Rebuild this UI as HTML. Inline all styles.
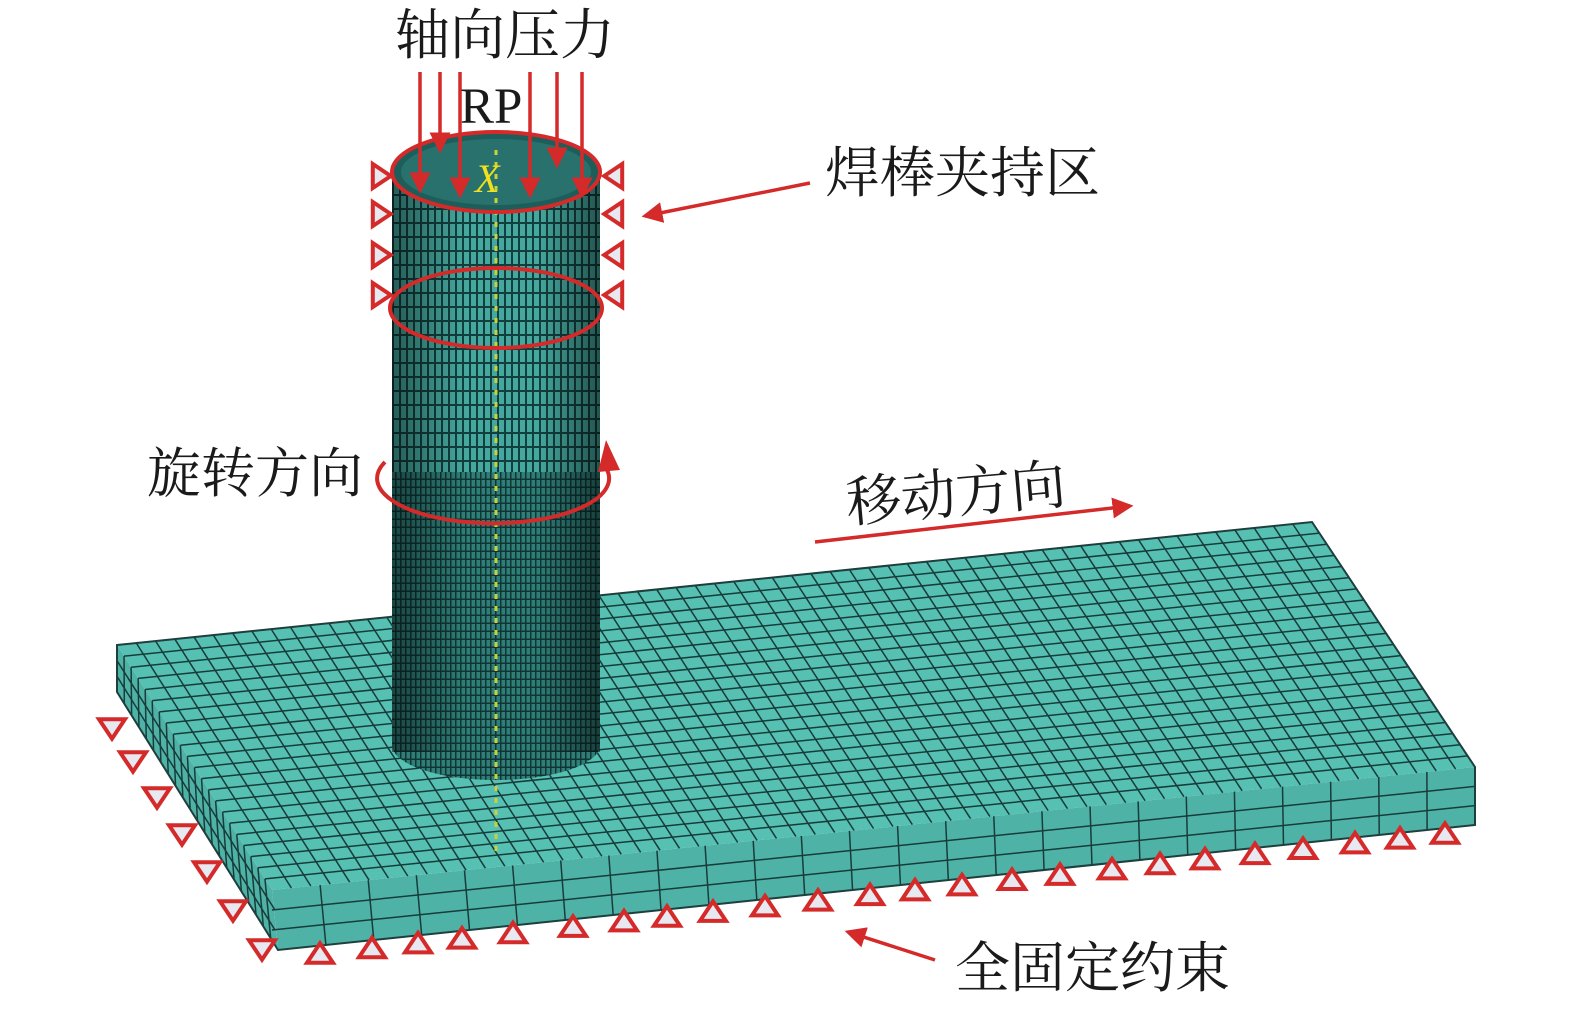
<!DOCTYPE html>
<html><head><meta charset="utf-8"><style>
html,body{margin:0;padding:0;background:#fff;}
svg{display:block}
.t{font-family:"Liberation Serif","Noto Serif CJK SC",serif;fill:#1a1a1a;}
</style></head><body>
<svg id="s" width="1575" height="1009" viewBox="0 0 1575 1009" xmlns="http://www.w3.org/2000/svg">
<defs>
<marker id="ah" markerWidth="6" markerHeight="6" refX="5" refY="3" orient="auto" markerUnits="strokeWidth"><path d="M0,0 L6,3 L0,6 Z" fill="#d42a2a"/></marker>
<pattern id="cyl" width="7" height="14" patternUnits="userSpaceOnUse"><rect width="7" height="14" fill="#45a89f"/><rect x="0" width="2" height="14" fill="#123f3d"/><rect y="12" width="7" height="2" fill="#123f3d"/></pattern>
<pattern id="cyl2" width="5" height="8" patternUnits="userSpaceOnUse"><rect width="5" height="8" fill="#2f7e78"/><rect width="1.5" height="8" fill="#0f3634"/><rect y="6.5" width="5" height="1.5" fill="#0f3634"/></pattern>
<linearGradient id="shade" x1="0" x2="1"><stop offset="0" stop-color="#000" stop-opacity=".45"/><stop offset=".35" stop-color="#000" stop-opacity="0"/><stop offset=".7" stop-color="#000" stop-opacity="0"/><stop offset="1" stop-color="#000" stop-opacity=".5"/></linearGradient>
</defs>
<polygon points="117,645 1312,522 1475,767 272,890" fill="#56c0b3"/>
<polygon points="117,645 272,890 278,950 117,692" fill="#4fb2a6"/>
<polygon points="272,890 1475,767 1475,825 278,950" fill="#4fb2a6"/>
<g id="mesh" stroke="#173c3a" stroke-width="1.5" fill="none"></g>
<polygon points="117,645 1312,522 1475,767 1475,825 278,950 117,692" fill="none" stroke="#1d3f3d" stroke-width="2"/>
<rect x="392" y="172" width="208" height="300" fill="url(#cyl)"/>
<rect x="392" y="472" width="208" height="275" fill="url(#cyl2)"/>
<path d="M392,580 L392,745 A104,35 0 0 0 600,745 L600,580 Z" fill="url(#cyl2)"/>
<rect x="392" y="172" width="208" height="580" fill="url(#shade)"/>
<ellipse cx="496" cy="172" rx="104" ry="40" fill="#1e5e5a"/>
<ellipse cx="496" cy="172" rx="95" ry="33" fill="#2f7f79" opacity=".6"/>
<line x1="496" y1="150" x2="496" y2="855" stroke="#c8d23a" stroke-width="3" stroke-dasharray="5,7"/>
<g stroke="#d42a2a" stroke-width="4" fill="none">
<ellipse cx="496" cy="172" rx="104" ry="40"/>
<ellipse cx="496" cy="308" rx="106" ry="40"/>
<path d="M385,462 A116,45 0 1 0 606,468"/>
</g>
<polygon points="598,472 606,440 620,470" fill="#d42a2a"/>
<g stroke="#d42a2a" stroke-width="3.5" marker-end="url(#ah)">
<line x1="420" y1="72" x2="420" y2="190"/>
<line x1="440" y1="72" x2="440" y2="150"/>
<line x1="460" y1="72" x2="460" y2="195"/>
<line x1="530" y1="72" x2="530" y2="195"/>
<line x1="557" y1="72" x2="557" y2="165"/>
<line x1="582" y1="72" x2="582" y2="195"/>
<line x1="810" y1="183" x2="645" y2="216"/>
<line x1="815" y1="542" x2="1130" y2="506"/>
<line x1="935" y1="960" x2="848" y2="932"/>
</g>
<g id="tri" fill="#e8e8f0" stroke="#d42a2a" stroke-width="4" stroke-linejoin="miter"></g>
<text x="395" y="54" class="t" font-size="55">轴向压力</text>
<text x="460" y="123" class="t" font-size="51">RP</text>
<text x="475" y="192" font-family="Liberation Serif,serif" font-style="italic" font-size="40" fill="#f0e020">X</text>
<text x="825" y="192" class="t" font-size="55">焊棒夹持区</text>
<text x="147" y="492" class="t" font-size="54">旋转方向</text>
<text x="848" y="522" class="t" font-size="55" transform="rotate(-5 848 522)">移动方向</text>
<text x="955" y="987" class="t" font-size="55">全固定约束</text>
</svg>
<script>
var NS="http://www.w3.org/2000/svg",m=document.getElementById('mesh');
function L(a,b,c,d){var l=document.createElementNS(NS,'line');l.setAttribute('x1',a);l.setAttribute('y1',b);l.setAttribute('x2',c);l.setAttribute('y2',d);m.appendChild(l);}
var A=[117,645],B=[1312,522],C=[1475,767],D=[272,890];
function P(u,v){var x=(1-u)*(1-v)*A[0]+u*(1-v)*B[0]+u*v*C[0]+(1-u)*v*D[0];var y=(1-u)*(1-v)*A[1]+u*(1-v)*B[1]+u*v*C[1]+(1-u)*v*D[1];return [x,y];}
var nu=62,nv=22;
for(var i=1;i<nu;i++){var p=P(i/nu,0),q=P(i/nu,1);L(p[0],p[1],q[0],q[1]);}
for(var j=1;j<nv;j++){var p=P(0,j/nv),q=P(1,j/nv);L(p[0],p[1],q[0],q[1]);}
for(var k=1;k<3;k++){var f=k/3;L(272,890+60*f,1475,767+58*f);L(117,645+47*f,275,890+60*f);}
for(var i=1;i<25;i++){var t=i/25;var x=272+t*1203,y=890-t*123;L(x,y,x+(1-t)*6,y+58+(1-t)*2);}
for(var i=1;i<nv;i++){var t=i/nv;var x=117+t*155,y=645+t*245;L(x,y,x+t*6,y+47+t*13);}
var g=document.getElementById('tri');
function T(cx,cy,down){var s=13,pts;if(down)pts=[cx-s,cy-s*0.6,cx+s,cy-s*0.6,cx,cy+s*0.9];else pts=[cx,cy-s*0.9,cx-s,cy+s*0.6,cx+s,cy+s*0.6];var p=document.createElementNS(NS,'polygon');p.setAttribute('points',pts.join(' '));g.appendChild(p);}
function TS(cx,cy,right){var s=12,pts;if(right)pts=[cx-s*0.6,cy-s,cx-s*0.6,cy+s,cx+s*0.9,cy];else pts=[cx+s*0.6,cy-s,cx+s*0.6,cy+s,cx-s*0.9,cy];var p=document.createElementNS(NS,'polygon');p.setAttribute('points',pts.join(' '));g.appendChild(p);}
[[112,727],[133,760],[157,796],[182,833],[207,870],[233,909],[262,948]].forEach(function(a){T(a[0],a[1],true);});
var bx=[320,372,418,462,513,573,624,667,713,765,818,870,915,962,1012,1060,1112,1160,1205,1255,1303,1355,1400,1445];
bx.forEach(function(x){var y=955-(x-320)*(120/1125);T(x,y,false);});
[176,214,255,295].forEach(function(y){TS(380,y,true);TS(615,y,false);});
</script>
</body></html>
